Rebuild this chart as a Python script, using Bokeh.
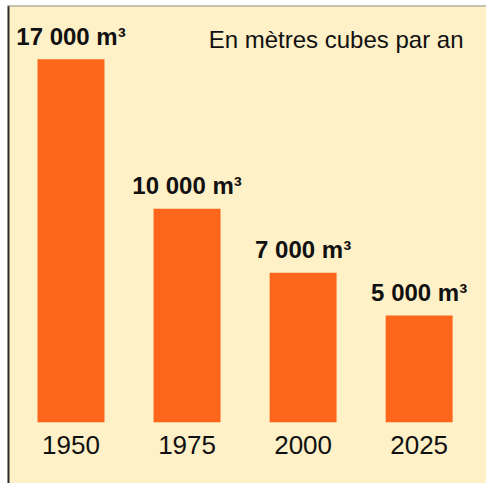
from bokeh.plotting import figure
from bokeh.models import ColumnDataSource, Range1d, Label
from bokeh.embed import file_html
from bokeh.resources import INLINE
from bokeh.core.properties import value

# Data
years = [1950, 1975, 2000, 2025]
volumes = [17000, 10000, 7000, 5000]
unit_suffix = " m³"
note = "En mètres cubes par an"

CREAM = "#FEF0C7"
ORANGE = "#FE661C"
INK = "#111111"
FONT = "Liberation Sans"

xs = list(range(len(years)))
labels = [f"{v:,}".replace(",", " ") + unit_suffix for v in volumes]
src = ColumnDataSource(dict(x=xs, v=volumes, lab=labels,
                            yr=[str(y) for y in years], zero=[0] * len(years)))

x0, x1 = -0.5472, 3.5804
y0, y1 = -2871, 19518

p = figure(width=486, height=483, output_backend="svg", toolbar_location=None,
           x_range=Range1d(x0, x1), y_range=Range1d(y0, y1),
           x_axis_location=None, y_axis_location=None,
           min_border_left=7, min_border_right=0,
           min_border_top=5, min_border_bottom=0,
           background_fill_color=CREAM, border_fill_color="white",
           outline_line_color=None)

p.xgrid.grid_line_color = None
p.ygrid.grid_line_color = None

# frame edges (left dark rule, top grey rule)
p.vspan(x=[x0], line_color="#2b2b2b", line_width=4)
p.hspan(y=[y1], line_color="#8c8c8c", line_width=2)

p.vbar(x="x", top="v", bottom=0, width=0.577, source=src,
       fill_color=ORANGE, line_color=None)

p.text(x="x", y="v", text="lab", source=src, y_offset=-23,
       text_align="center", text_baseline="alphabetic",
       text_font=value(FONT), text_font_style="bold",
       text_font_size="24px", text_color=INK)

p.text(x="x", y="zero", text="yr", source=src, y_offset=23,
       text_align="center", text_baseline="alphabetic",
       text_font=value(FONT), text_font_size="26px", text_color=INK)

p.add_layout(Label(x=456, y=444, x_units="screen", y_units="screen", text=note,
                   text_align="right", text_baseline="alphabetic",
                   text_font=FONT, text_font_size="24px", text_color=INK))

open("out.html", "w").write(file_html(p, INLINE))
